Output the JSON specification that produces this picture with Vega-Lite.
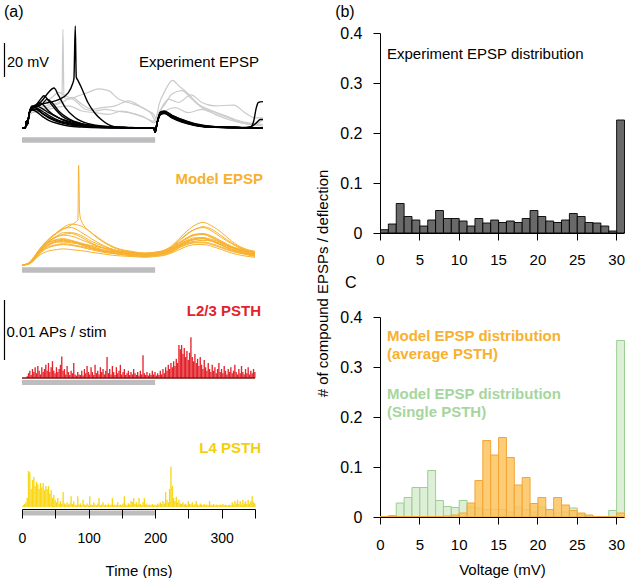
{"$schema":"https://vega.github.io/schema/vega-lite/v6.json",
"autosize":{"type":"pad"},
"padding":{"left":3,"top":4,"right":0,"bottom":0},
"background":"white",
"config":{"view":{"stroke":null},"font":"Liberation Sans","axis":{"grid":false,"domainColor":"#000","tickColor":"#000","labelColor":"#000","titleColor":"#000","labelFont":"Liberation Sans","titleFont":"Liberation Sans","titleFontWeight":"normal","domainWidth":1,"tickWidth":1},"text":{"font":"Liberation Sans"}},
"datasets":{
"expk":[
{"id":"b1","t":0,"v":0},{"id":"b1","t":5,"v":0},{"id":"b1","t":6.5,"v":4},{"id":"b1","t":8,"v":2},{"id":"b1","t":11,"v":9},{"id":"b1","t":15,"v":12.5},{"id":"b1","t":20,"v":12},{"id":"b1","t":30,"v":9},{"id":"b1","t":40,"v":6.5},{"id":"b1","t":55,"v":4},{"id":"b1","t":70,"v":2.5},{"id":"b1","t":90,"v":1.2},{"id":"b1","t":120,"v":0.4},{"id":"b1","t":160,"v":0.1},{"id":"b1","t":198,"v":0},{"id":"b1","t":200,"v":-2.5},{"id":"b1","t":203,"v":3},{"id":"b1","t":208,"v":8.5},{"id":"b1","t":214,"v":9},{"id":"b1","t":225,"v":6.5},{"id":"b1","t":240,"v":4},{"id":"b1","t":260,"v":1.8},{"id":"b1","t":290,"v":0.5},{"id":"b1","t":330,"v":0.2},{"id":"b1","t":362,"v":0},
{"id":"b2","t":0,"v":0},{"id":"b2","t":5,"v":0},{"id":"b2","t":6.5,"v":4},{"id":"b2","t":8,"v":2},{"id":"b2","t":11,"v":9},{"id":"b2","t":15,"v":13},{"id":"b2","t":22,"v":13},{"id":"b2","t":30,"v":11.5},{"id":"b2","t":40,"v":9},{"id":"b2","t":55,"v":6},{"id":"b2","t":70,"v":4},{"id":"b2","t":90,"v":2},{"id":"b2","t":120,"v":0.7},{"id":"b2","t":160,"v":0.2},{"id":"b2","t":198,"v":0},{"id":"b2","t":200,"v":-2.5},{"id":"b2","t":203,"v":3},{"id":"b2","t":208,"v":9},{"id":"b2","t":214,"v":9.5},{"id":"b2","t":225,"v":7.5},{"id":"b2","t":240,"v":5},{"id":"b2","t":260,"v":2.5},{"id":"b2","t":290,"v":0.8},{"id":"b2","t":330,"v":0.3},{"id":"b2","t":362,"v":0},
{"id":"b3","t":0,"v":0},{"id":"b3","t":5,"v":0},{"id":"b3","t":6.5,"v":4},{"id":"b3","t":8,"v":2},{"id":"b3","t":11,"v":9},{"id":"b3","t":15,"v":12},{"id":"b3","t":22,"v":14},{"id":"b3","t":28,"v":17},{"id":"b3","t":33,"v":19},{"id":"b3","t":40,"v":16},{"id":"b3","t":50,"v":11},{"id":"b3","t":60,"v":7},{"id":"b3","t":75,"v":4},{"id":"b3","t":95,"v":2},{"id":"b3","t":120,"v":0.8},{"id":"b3","t":160,"v":0.2},{"id":"b3","t":198,"v":0},{"id":"b3","t":200,"v":-2},{"id":"b3","t":203,"v":3},{"id":"b3","t":208,"v":8},{"id":"b3","t":214,"v":8.8},{"id":"b3","t":225,"v":6.5},{"id":"b3","t":240,"v":4},{"id":"b3","t":260,"v":1.8},{"id":"b3","t":290,"v":0.5},{"id":"b3","t":330,"v":0.2},{"id":"b3","t":362,"v":0},
{"id":"b4","t":0,"v":0},{"id":"b4","t":5,"v":0},{"id":"b4","t":6.5,"v":4},{"id":"b4","t":8,"v":2},{"id":"b4","t":11,"v":9},{"id":"b4","t":15,"v":11.5},{"id":"b4","t":22,"v":13},{"id":"b4","t":30,"v":16},{"id":"b4","t":40,"v":21},{"id":"b4","t":48,"v":23.5},{"id":"b4","t":55,"v":19},{"id":"b4","t":65,"v":12},{"id":"b4","t":80,"v":6},{"id":"b4","t":100,"v":2.5},{"id":"b4","t":130,"v":0.8},{"id":"b4","t":160,"v":0.2},{"id":"b4","t":198,"v":0},{"id":"b4","t":200,"v":-2.5},{"id":"b4","t":203,"v":3},{"id":"b4","t":208,"v":9},{"id":"b4","t":214,"v":9.5},{"id":"b4","t":225,"v":7},{"id":"b4","t":240,"v":4.5},{"id":"b4","t":260,"v":2},{"id":"b4","t":290,"v":0.6},{"id":"b4","t":330,"v":0.2},{"id":"b4","t":362,"v":0},
{"id":"b5","t":0,"v":0},{"id":"b5","t":5,"v":0},{"id":"b5","t":6.5,"v":4},{"id":"b5","t":8,"v":2},{"id":"b5","t":11,"v":9},{"id":"b5","t":15,"v":12},{"id":"b5","t":22,"v":13},{"id":"b5","t":30,"v":14},{"id":"b5","t":40,"v":15},{"id":"b5","t":54,"v":16.5},{"id":"b5","t":69,"v":20.5},{"id":"b5","t":76,"v":26},{"id":"b5","t":78,"v":29},{"id":"b5","t":80,"v":60},{"id":"b5","t":81.5,"v":30},{"id":"b5","t":84,"v":28},{"id":"b5","t":89,"v":24},{"id":"b5","t":99,"v":15},{"id":"b5","t":109,"v":9},{"id":"b5","t":119,"v":5},{"id":"b5","t":139,"v":0.8},{"id":"b5","t":170,"v":0.2},{"id":"b5","t":198,"v":0},{"id":"b5","t":200,"v":-2.5},{"id":"b5","t":203,"v":3},{"id":"b5","t":208,"v":8.5},{"id":"b5","t":214,"v":9},{"id":"b5","t":225,"v":6.5},{"id":"b5","t":240,"v":4},{"id":"b5","t":260,"v":1.8},{"id":"b5","t":290,"v":0.5},{"id":"b5","t":330,"v":0.2},{"id":"b5","t":362,"v":0},
{"id":"b6","t":0,"v":0},{"id":"b6","t":5,"v":0},{"id":"b6","t":6.5,"v":4},{"id":"b6","t":8,"v":2},{"id":"b6","t":11,"v":9},{"id":"b6","t":15,"v":12},{"id":"b6","t":20,"v":12},{"id":"b6","t":30,"v":10},{"id":"b6","t":40,"v":7.5},{"id":"b6","t":55,"v":4.5},{"id":"b6","t":70,"v":3},{"id":"b6","t":90,"v":1.5},{"id":"b6","t":120,"v":0.5},{"id":"b6","t":160,"v":0.1},{"id":"b6","t":198,"v":0},{"id":"b6","t":200,"v":-2.5},{"id":"b6","t":203,"v":3},{"id":"b6","t":208,"v":8.5},{"id":"b6","t":214,"v":9.3},{"id":"b6","t":225,"v":7},{"id":"b6","t":240,"v":4.2},{"id":"b6","t":260,"v":1.9},{"id":"b6","t":290,"v":0.5},{"id":"b6","t":330,"v":0.2},{"id":"b6","t":343,"v":0.5},{"id":"b6","t":348,"v":4},{"id":"b6","t":352,"v":12},{"id":"b6","t":355,"v":15},{"id":"b6","t":362,"v":15.5},
{"id":"b7","t":0,"v":0},{"id":"b7","t":5,"v":0},{"id":"b7","t":6.5,"v":4},{"id":"b7","t":8,"v":2},{"id":"b7","t":11,"v":9},{"id":"b7","t":15,"v":11},{"id":"b7","t":20,"v":11},{"id":"b7","t":30,"v":8.5},{"id":"b7","t":40,"v":6},{"id":"b7","t":55,"v":3.5},{"id":"b7","t":70,"v":2},{"id":"b7","t":90,"v":1},{"id":"b7","t":120,"v":0.3},{"id":"b7","t":160,"v":0.1},{"id":"b7","t":198,"v":0},{"id":"b7","t":200,"v":-2.5},{"id":"b7","t":203,"v":3},{"id":"b7","t":208,"v":8.2},{"id":"b7","t":214,"v":8.8},{"id":"b7","t":225,"v":6.3},{"id":"b7","t":240,"v":3.8},{"id":"b7","t":260,"v":1.6},{"id":"b7","t":290,"v":0.4},{"id":"b7","t":330,"v":0.2},{"id":"b7","t":345,"v":1},{"id":"b7","t":352,"v":3},{"id":"b7","t":358,"v":5},{"id":"b7","t":362,"v":5},
{"id":"b8","t":0,"v":0},{"id":"b8","t":5,"v":0},{"id":"b8","t":6.5,"v":3.5},{"id":"b8","t":8,"v":2},{"id":"b8","t":11,"v":8.5},{"id":"b8","t":15,"v":10.5},{"id":"b8","t":20,"v":10},{"id":"b8","t":30,"v":7},{"id":"b8","t":40,"v":4.5},{"id":"b8","t":55,"v":2.5},{"id":"b8","t":70,"v":1.2},{"id":"b8","t":90,"v":0.5},{"id":"b8","t":120,"v":0.1},{"id":"b8","t":198,"v":0},{"id":"b8","t":200,"v":-2.5},{"id":"b8","t":203,"v":3},{"id":"b8","t":208,"v":8},{"id":"b8","t":214,"v":8.5},{"id":"b8","t":225,"v":6},{"id":"b8","t":240,"v":3.5},{"id":"b8","t":260,"v":1.5},{"id":"b8","t":290,"v":0.4},{"id":"b8","t":362,"v":0},
{"id":"b9","t":0,"v":0},{"id":"b9","t":5,"v":0},{"id":"b9","t":6.5,"v":4},{"id":"b9","t":8,"v":2},{"id":"b9","t":11,"v":9},{"id":"b9","t":15,"v":12},{"id":"b9","t":20,"v":13},{"id":"b9","t":26,"v":15},{"id":"b9","t":32,"v":13.5},{"id":"b9","t":40,"v":10},{"id":"b9","t":55,"v":6},{"id":"b9","t":70,"v":3.5},{"id":"b9","t":90,"v":1.8},{"id":"b9","t":120,"v":0.5},{"id":"b9","t":160,"v":0.1},{"id":"b9","t":198,"v":0},{"id":"b9","t":200,"v":-2},{"id":"b9","t":203,"v":3.5},{"id":"b9","t":208,"v":9.5},{"id":"b9","t":214,"v":10},{"id":"b9","t":225,"v":7.5},{"id":"b9","t":240,"v":5},{"id":"b9","t":260,"v":2.2},{"id":"b9","t":290,"v":0.7},{"id":"b9","t":330,"v":0.2},{"id":"b9","t":362,"v":0},
{"id":"b10","t":0,"v":0},{"id":"b10","t":5,"v":0},{"id":"b10","t":6.5,"v":4},{"id":"b10","t":8,"v":2},{"id":"b10","t":11,"v":9},{"id":"b10","t":15,"v":11.5},{"id":"b10","t":22,"v":12.5},{"id":"b10","t":30,"v":14},{"id":"b10","t":38,"v":17},{"id":"b10","t":45,"v":15},{"id":"b10","t":55,"v":10},{"id":"b10","t":70,"v":5.5},{"id":"b10","t":90,"v":2.5},{"id":"b10","t":120,"v":0.8},{"id":"b10","t":160,"v":0.2},{"id":"b10","t":198,"v":0},{"id":"b10","t":200,"v":-2.5},{"id":"b10","t":203,"v":3},{"id":"b10","t":208,"v":9},{"id":"b10","t":214,"v":9.2},{"id":"b10","t":225,"v":7},{"id":"b10","t":240,"v":4.3},{"id":"b10","t":260,"v":2},{"id":"b10","t":290,"v":0.6},{"id":"b10","t":330,"v":0.2},{"id":"b10","t":362,"v":0}
],
"expg":[
{"id":"g1","t":0,"v":0},{"id":"g1","t":5,"v":0},{"id":"g1","t":6.5,"v":4},{"id":"g1","t":8,"v":2},{"id":"g1","t":11,"v":9},{"id":"g1","t":15,"v":11},{"id":"g1","t":25,"v":12},{"id":"g1","t":35,"v":13},{"id":"g1","t":45,"v":14},{"id":"g1","t":55,"v":15},{"id":"g1","t":60,"v":17},{"id":"g1","t":61.5,"v":58},{"id":"g1","t":63,"v":18},{"id":"g1","t":70,"v":17},{"id":"g1","t":85,"v":19},{"id":"g1","t":100,"v":21},{"id":"g1","t":115,"v":23},{"id":"g1","t":130,"v":22},{"id":"g1","t":145,"v":17},{"id":"g1","t":160,"v":15},{"id":"g1","t":175,"v":13},{"id":"g1","t":190,"v":10},{"id":"g1","t":198,"v":8},{"id":"g1","t":201,"v":6},{"id":"g1","t":206,"v":14},{"id":"g1","t":215,"v":22},{"id":"g1","t":226,"v":28},{"id":"g1","t":235,"v":25},{"id":"g1","t":250,"v":20},{"id":"g1","t":265,"v":14},{"id":"g1","t":280,"v":11},{"id":"g1","t":300,"v":8},{"id":"g1","t":320,"v":5},{"id":"g1","t":340,"v":3},{"id":"g1","t":362,"v":2},
{"id":"g2","t":0,"v":0},{"id":"g2","t":5,"v":0},{"id":"g2","t":6.5,"v":4},{"id":"g2","t":8,"v":2},{"id":"g2","t":11,"v":8},{"id":"g2","t":15,"v":10},{"id":"g2","t":30,"v":11},{"id":"g2","t":45,"v":13},{"id":"g2","t":60,"v":15},{"id":"g2","t":75,"v":18},{"id":"g2","t":90,"v":14},{"id":"g2","t":105,"v":11},{"id":"g2","t":120,"v":12},{"id":"g2","t":140,"v":13},{"id":"g2","t":160,"v":16},{"id":"g2","t":180,"v":12},{"id":"g2","t":195,"v":8},{"id":"g2","t":201,"v":4},{"id":"g2","t":210,"v":12},{"id":"g2","t":220,"v":17},{"id":"g2","t":235,"v":15},{"id":"g2","t":254,"v":19.5},{"id":"g2","t":270,"v":15},{"id":"g2","t":290,"v":13},{"id":"g2","t":318,"v":13.5},{"id":"g2","t":335,"v":9},{"id":"g2","t":350,"v":6},{"id":"g2","t":362,"v":6},
{"id":"g3","t":0,"v":0},{"id":"g3","t":5,"v":0},{"id":"g3","t":6.5,"v":4},{"id":"g3","t":8,"v":2},{"id":"g3","t":11,"v":8},{"id":"g3","t":15,"v":11},{"id":"g3","t":30,"v":14},{"id":"g3","t":45,"v":18},{"id":"g3","t":55,"v":21},{"id":"g3","t":65,"v":19},{"id":"g3","t":80,"v":16},{"id":"g3","t":95,"v":11},{"id":"g3","t":110,"v":10},{"id":"g3","t":125,"v":11},{"id":"g3","t":140,"v":10},{"id":"g3","t":160,"v":9},{"id":"g3","t":180,"v":7},{"id":"g3","t":198,"v":4},{"id":"g3","t":205,"v":9},{"id":"g3","t":215,"v":14},{"id":"g3","t":225,"v":20},{"id":"g3","t":240,"v":22},{"id":"g3","t":255,"v":17},{"id":"g3","t":270,"v":12},{"id":"g3","t":290,"v":9},{"id":"g3","t":310,"v":6},{"id":"g3","t":330,"v":3},{"id":"g3","t":350,"v":2},{"id":"g3","t":362,"v":5},
{"id":"g4","t":0,"v":0},{"id":"g4","t":5,"v":0},{"id":"g4","t":6.5,"v":3},{"id":"g4","t":8,"v":2},{"id":"g4","t":11,"v":7},{"id":"g4","t":15,"v":9},{"id":"g4","t":30,"v":10},{"id":"g4","t":50,"v":12},{"id":"g4","t":70,"v":13},{"id":"g4","t":90,"v":10},{"id":"g4","t":110,"v":9},{"id":"g4","t":130,"v":8},{"id":"g4","t":150,"v":10},{"id":"g4","t":170,"v":8},{"id":"g4","t":190,"v":5},{"id":"g4","t":198,"v":3},{"id":"g4","t":205,"v":6},{"id":"g4","t":215,"v":10},{"id":"g4","t":230,"v":12},{"id":"g4","t":250,"v":9},{"id":"g4","t":270,"v":11},{"id":"g4","t":290,"v":8},{"id":"g4","t":310,"v":5},{"id":"g4","t":330,"v":3},{"id":"g4","t":345,"v":2},{"id":"g4","t":362,"v":1}
],
"mod":[
{"id":"m1","t":0,"v":0},{"id":"m1","t":8,"v":0.5},{"id":"m1","t":16,"v":3},{"id":"m1","t":24,"v":7},{"id":"m1","t":32,"v":10.5},{"id":"m1","t":42,"v":13.5},{"id":"m1","t":52,"v":15},{"id":"m1","t":62,"v":15.5},{"id":"m1","t":74,"v":14.5},{"id":"m1","t":88,"v":13},{"id":"m1","t":104,"v":11},{"id":"m1","t":122,"v":9},{"id":"m1","t":142,"v":7.5},{"id":"m1","t":165,"v":6.5},{"id":"m1","t":185,"v":6},{"id":"m1","t":200,"v":6.5},{"id":"m1","t":212,"v":7},{"id":"m1","t":224,"v":9},{"id":"m1","t":236,"v":12},{"id":"m1","t":248,"v":14.5},{"id":"m1","t":260,"v":16},{"id":"m1","t":272,"v":16},{"id":"m1","t":285,"v":14.5},{"id":"m1","t":300,"v":12},{"id":"m1","t":315,"v":9.5},{"id":"m1","t":332,"v":7.5},{"id":"m1","t":350,"v":6},
{"id":"m2","t":0,"v":0},{"id":"m2","t":8,"v":0.8},{"id":"m2","t":16,"v":3.5},{"id":"m2","t":24,"v":8},{"id":"m2","t":32,"v":12},{"id":"m2","t":42,"v":16},{"id":"m2","t":52,"v":19},{"id":"m2","t":62,"v":21.5},{"id":"m2","t":74,"v":22},{"id":"m2","t":88,"v":19.5},{"id":"m2","t":104,"v":15.5},{"id":"m2","t":122,"v":11.5},{"id":"m2","t":142,"v":8.5},{"id":"m2","t":165,"v":7},{"id":"m2","t":185,"v":6.5},{"id":"m2","t":200,"v":7},{"id":"m2","t":212,"v":8},{"id":"m2","t":224,"v":10},{"id":"m2","t":236,"v":14},{"id":"m2","t":248,"v":18},{"id":"m2","t":260,"v":21},{"id":"m2","t":272,"v":22},{"id":"m2","t":285,"v":20},{"id":"m2","t":300,"v":16},{"id":"m2","t":315,"v":12.5},{"id":"m2","t":332,"v":9},{"id":"m2","t":350,"v":7},
{"id":"m3","t":0,"v":0},{"id":"m3","t":8,"v":0.3},{"id":"m3","t":16,"v":2},{"id":"m3","t":24,"v":5},{"id":"m3","t":32,"v":7},{"id":"m3","t":42,"v":8.5},{"id":"m3","t":52,"v":9},{"id":"m3","t":62,"v":9.5},{"id":"m3","t":74,"v":9},{"id":"m3","t":88,"v":8.5},{"id":"m3","t":104,"v":7.5},{"id":"m3","t":122,"v":6.5},{"id":"m3","t":142,"v":5.5},{"id":"m3","t":165,"v":5},{"id":"m3","t":185,"v":4.5},{"id":"m3","t":200,"v":5},{"id":"m3","t":212,"v":5.5},{"id":"m3","t":224,"v":7},{"id":"m3","t":236,"v":9},{"id":"m3","t":248,"v":11},{"id":"m3","t":260,"v":12},{"id":"m3","t":272,"v":12},{"id":"m3","t":285,"v":11},{"id":"m3","t":300,"v":9},{"id":"m3","t":315,"v":7},{"id":"m3","t":332,"v":5.5},{"id":"m3","t":350,"v":4.5},
{"id":"m4","t":0,"v":0},{"id":"m4","t":8,"v":0.6},{"id":"m4","t":16,"v":3.5},{"id":"m4","t":24,"v":8},{"id":"m4","t":32,"v":12},{"id":"m4","t":42,"v":15.5},{"id":"m4","t":52,"v":18.5},{"id":"m4","t":62,"v":21},{"id":"m4","t":74,"v":23.5},{"id":"m4","t":80,"v":25},{"id":"m4","t":84,"v":26.5},{"id":"m4","t":85,"v":58.6},{"id":"m4","t":86.5,"v":31},{"id":"m4","t":89,"v":26},{"id":"m4","t":104,"v":19},{"id":"m4","t":122,"v":13.5},{"id":"m4","t":142,"v":9.5},{"id":"m4","t":165,"v":7.5},{"id":"m4","t":185,"v":6.5},{"id":"m4","t":200,"v":7},{"id":"m4","t":212,"v":8},{"id":"m4","t":224,"v":10.5},{"id":"m4","t":236,"v":14.5},{"id":"m4","t":248,"v":18.5},{"id":"m4","t":260,"v":21},{"id":"m4","t":272,"v":22.5},{"id":"m4","t":285,"v":21},{"id":"m4","t":300,"v":17},{"id":"m4","t":315,"v":13},{"id":"m4","t":332,"v":9.5},{"id":"m4","t":350,"v":7.5},
{"id":"m5","t":0,"v":0},{"id":"m5","t":8,"v":0.4},{"id":"m5","t":16,"v":2.5},{"id":"m5","t":24,"v":6},{"id":"m5","t":32,"v":9.5},{"id":"m5","t":42,"v":12.5},{"id":"m5","t":52,"v":14},{"id":"m5","t":62,"v":14.5},{"id":"m5","t":74,"v":14},{"id":"m5","t":88,"v":12.5},{"id":"m5","t":104,"v":10.5},{"id":"m5","t":122,"v":8.5},{"id":"m5","t":142,"v":7},{"id":"m5","t":165,"v":6},{"id":"m5","t":185,"v":5.5},{"id":"m5","t":200,"v":6},{"id":"m5","t":212,"v":6.5},{"id":"m5","t":224,"v":8.5},{"id":"m5","t":236,"v":11.5},{"id":"m5","t":248,"v":14},{"id":"m5","t":260,"v":15},{"id":"m5","t":272,"v":15.5},{"id":"m5","t":285,"v":14},{"id":"m5","t":300,"v":11.5},{"id":"m5","t":315,"v":9},{"id":"m5","t":332,"v":7},{"id":"m5","t":350,"v":5.5},
{"id":"m6","t":0,"v":0},{"id":"m6","t":8,"v":0.5},{"id":"m6","t":16,"v":3},{"id":"m6","t":24,"v":7.5},{"id":"m6","t":32,"v":11.5},{"id":"m6","t":42,"v":15.5},{"id":"m6","t":52,"v":19},{"id":"m6","t":62,"v":22},{"id":"m6","t":74,"v":24},{"id":"m6","t":88,"v":23},{"id":"m6","t":104,"v":19},{"id":"m6","t":122,"v":14},{"id":"m6","t":142,"v":10},{"id":"m6","t":165,"v":8},{"id":"m6","t":185,"v":7},{"id":"m6","t":200,"v":7.5},{"id":"m6","t":212,"v":8.5},{"id":"m6","t":224,"v":11},{"id":"m6","t":236,"v":15.5},{"id":"m6","t":248,"v":20},{"id":"m6","t":260,"v":23.5},{"id":"m6","t":272,"v":25},{"id":"m6","t":285,"v":23},{"id":"m6","t":300,"v":19},{"id":"m6","t":315,"v":14},{"id":"m6","t":332,"v":10},{"id":"m6","t":350,"v":8},
{"id":"m7","t":0,"v":0},{"id":"m7","t":8,"v":0.5},{"id":"m7","t":16,"v":3},{"id":"m7","t":24,"v":6.5},{"id":"m7","t":32,"v":9.5},{"id":"m7","t":42,"v":12},{"id":"m7","t":52,"v":13.5},{"id":"m7","t":62,"v":14},{"id":"m7","t":74,"v":13.5},{"id":"m7","t":88,"v":12},{"id":"m7","t":104,"v":10},{"id":"m7","t":122,"v":8},{"id":"m7","t":142,"v":7},{"id":"m7","t":165,"v":6},{"id":"m7","t":185,"v":5.5},{"id":"m7","t":200,"v":6},{"id":"m7","t":212,"v":7},{"id":"m7","t":224,"v":8},{"id":"m7","t":236,"v":10.5},{"id":"m7","t":248,"v":12.5},{"id":"m7","t":260,"v":13.5},{"id":"m7","t":272,"v":13.5},{"id":"m7","t":285,"v":12.5},{"id":"m7","t":300,"v":10.5},{"id":"m7","t":315,"v":8.5},{"id":"m7","t":332,"v":7},{"id":"m7","t":350,"v":6},
{"id":"m8","t":0,"v":0},{"id":"m8","t":8,"v":0.6},{"id":"m8","t":16,"v":3.5},{"id":"m8","t":24,"v":8},{"id":"m8","t":32,"v":11.5},{"id":"m8","t":42,"v":14.5},{"id":"m8","t":52,"v":16.5},{"id":"m8","t":62,"v":17.5},{"id":"m8","t":74,"v":17},{"id":"m8","t":88,"v":15},{"id":"m8","t":104,"v":12.5},{"id":"m8","t":122,"v":10},{"id":"m8","t":142,"v":8},{"id":"m8","t":165,"v":7},{"id":"m8","t":185,"v":6.5},{"id":"m8","t":200,"v":7},{"id":"m8","t":212,"v":8},{"id":"m8","t":224,"v":10},{"id":"m8","t":236,"v":13},{"id":"m8","t":248,"v":16},{"id":"m8","t":260,"v":18},{"id":"m8","t":272,"v":18.5},{"id":"m8","t":285,"v":17},{"id":"m8","t":300,"v":14},{"id":"m8","t":315,"v":11},{"id":"m8","t":332,"v":8.5},{"id":"m8","t":350,"v":7},
{"id":"m9","t":0,"v":0},{"id":"m9","t":8,"v":0.4},{"id":"m9","t":16,"v":2.5},{"id":"m9","t":24,"v":6},{"id":"m9","t":32,"v":9},{"id":"m9","t":42,"v":11},{"id":"m9","t":52,"v":12},{"id":"m9","t":62,"v":12.5},{"id":"m9","t":74,"v":12},{"id":"m9","t":88,"v":11},{"id":"m9","t":104,"v":9.5},{"id":"m9","t":122,"v":8},{"id":"m9","t":142,"v":6.5},{"id":"m9","t":165,"v":5.5},{"id":"m9","t":185,"v":5},{"id":"m9","t":200,"v":5.5},{"id":"m9","t":212,"v":6},{"id":"m9","t":224,"v":7.5},{"id":"m9","t":236,"v":10},{"id":"m9","t":248,"v":12},{"id":"m9","t":260,"v":13},{"id":"m9","t":272,"v":13},{"id":"m9","t":285,"v":12},{"id":"m9","t":300,"v":10},{"id":"m9","t":315,"v":8},{"id":"m9","t":332,"v":6.5},{"id":"m9","t":350,"v":5},
{"id":"m10","t":0,"v":0},{"id":"m10","t":8,"v":0.5},{"id":"m10","t":16,"v":3},{"id":"m10","t":24,"v":7},{"id":"m10","t":32,"v":10.5},{"id":"m10","t":42,"v":14},{"id":"m10","t":52,"v":16.5},{"id":"m10","t":62,"v":18},{"id":"m10","t":74,"v":18.5},{"id":"m10","t":88,"v":16.5},{"id":"m10","t":104,"v":13},{"id":"m10","t":122,"v":10},{"id":"m10","t":142,"v":8},{"id":"m10","t":165,"v":6.5},{"id":"m10","t":185,"v":6},{"id":"m10","t":200,"v":6.5},{"id":"m10","t":212,"v":7.5},{"id":"m10","t":224,"v":9.5},{"id":"m10","t":236,"v":12.5},{"id":"m10","t":248,"v":15.5},{"id":"m10","t":260,"v":17.5},{"id":"m10","t":272,"v":18},{"id":"m10","t":285,"v":16.5},{"id":"m10","t":300,"v":13.5},{"id":"m10","t":315,"v":10.5},{"id":"m10","t":332,"v":8},{"id":"m10","t":350,"v":6.5},
{"id":"m11","t":0,"v":0},{"id":"m11","t":8,"v":0.5},{"id":"m11","t":16,"v":3},{"id":"m11","t":24,"v":7},{"id":"m11","t":32,"v":11},{"id":"m11","t":42,"v":14.5},{"id":"m11","t":52,"v":17},{"id":"m11","t":62,"v":19},{"id":"m11","t":74,"v":19},{"id":"m11","t":88,"v":17.5},{"id":"m11","t":104,"v":14},{"id":"m11","t":122,"v":11},{"id":"m11","t":142,"v":8.5},{"id":"m11","t":165,"v":7},{"id":"m11","t":185,"v":6.5},{"id":"m11","t":200,"v":7},{"id":"m11","t":212,"v":7.5},{"id":"m11","t":224,"v":9},{"id":"m11","t":236,"v":11.5},{"id":"m11","t":248,"v":14},{"id":"m11","t":260,"v":15.5},{"id":"m11","t":272,"v":16},{"id":"m11","t":285,"v":15},{"id":"m11","t":300,"v":13},{"id":"m11","t":315,"v":10.5},{"id":"m11","t":332,"v":8.5},{"id":"m11","t":350,"v":7},
{"id":"m12","t":0,"v":0},{"id":"m12","t":8,"v":0.3},{"id":"m12","t":16,"v":2},{"id":"m12","t":24,"v":5.5},{"id":"m12","t":32,"v":8.5},{"id":"m12","t":42,"v":10.5},{"id":"m12","t":52,"v":11.5},{"id":"m12","t":62,"v":12},{"id":"m12","t":74,"v":11.5},{"id":"m12","t":88,"v":10.5},{"id":"m12","t":104,"v":9},{"id":"m12","t":122,"v":7.5},{"id":"m12","t":142,"v":6.5},{"id":"m12","t":165,"v":5.5},{"id":"m12","t":185,"v":5},{"id":"m12","t":200,"v":5.5},{"id":"m12","t":212,"v":6.5},{"id":"m12","t":224,"v":8},{"id":"m12","t":236,"v":11},{"id":"m12","t":248,"v":13.5},{"id":"m12","t":260,"v":15},{"id":"m12","t":272,"v":15.5},{"id":"m12","t":285,"v":14},{"id":"m12","t":300,"v":11.5},{"id":"m12","t":315,"v":9},{"id":"m12","t":332,"v":7},{"id":"m12","t":350,"v":5.5},
{"id":"m13","t":0,"v":0},{"id":"m13","t":8,"v":0.6},{"id":"m13","t":16,"v":3.5},{"id":"m13","t":24,"v":7.5},{"id":"m13","t":32,"v":11},{"id":"m13","t":42,"v":13.5},{"id":"m13","t":52,"v":14.5},{"id":"m13","t":62,"v":15},{"id":"m13","t":74,"v":14},{"id":"m13","t":88,"v":12},{"id":"m13","t":104,"v":10},{"id":"m13","t":122,"v":8.5},{"id":"m13","t":142,"v":7.5},{"id":"m13","t":165,"v":7},{"id":"m13","t":185,"v":6.5},{"id":"m13","t":200,"v":7},{"id":"m13","t":212,"v":7.5},{"id":"m13","t":224,"v":9.5},{"id":"m13","t":236,"v":13},{"id":"m13","t":248,"v":16},{"id":"m13","t":260,"v":18},{"id":"m13","t":272,"v":18},{"id":"m13","t":285,"v":16},{"id":"m13","t":300,"v":13},{"id":"m13","t":315,"v":10},{"id":"m13","t":332,"v":8},{"id":"m13","t":350,"v":6.5},
{"id":"m14","t":0,"v":0},{"id":"m14","t":8,"v":0.5},{"id":"m14","t":16,"v":3},{"id":"m14","t":24,"v":7},{"id":"m14","t":32,"v":10},{"id":"m14","t":42,"v":12.5},{"id":"m14","t":52,"v":13.5},{"id":"m14","t":62,"v":13.5},{"id":"m14","t":74,"v":13},{"id":"m14","t":88,"v":12.5},{"id":"m14","t":104,"v":11.5},{"id":"m14","t":122,"v":10},{"id":"m14","t":142,"v":8.5},{"id":"m14","t":165,"v":7.5},{"id":"m14","t":185,"v":7},{"id":"m14","t":200,"v":7.5},{"id":"m14","t":212,"v":8},{"id":"m14","t":224,"v":9},{"id":"m14","t":236,"v":11},{"id":"m14","t":248,"v":13},{"id":"m14","t":260,"v":14},{"id":"m14","t":272,"v":14.5},{"id":"m14","t":285,"v":14},{"id":"m14","t":300,"v":12.5},{"id":"m14","t":315,"v":10.5},{"id":"m14","t":332,"v":9},{"id":"m14","t":350,"v":7.5}
],
"l23":[
{"t":0,"r":0},{"t":2,"r":0},{"t":4,"r":0},{"t":6,"r":0.0003},{"t":8,"r":0.0008},{"t":10,"r":0.0012},{"t":12,"r":0.0005},{"t":14,"r":0.0015},{"t":16,"r":0.001},{"t":18,"r":0.0018},{"t":20,"r":0.0008},{"t":22,"r":0.002},{"t":24,"r":0.0012},{"t":26,"r":0.0006},{"t":28,"r":0.0018},{"t":30,"r":0.001},{"t":32,"r":0.0015},{"t":34,"r":0.0022},{"t":36,"r":0.0012},{"t":38,"r":0.0025},{"t":40,"r":0.001},{"t":42,"r":0.0018},{"t":44,"r":0.0028},{"t":46,"r":0.0012},{"t":48,"r":0.0008},{"t":50,"r":0.0018},{"t":52,"r":0.001},{"t":54,"r":0.0015},{"t":56,"r":0.0022},{"t":58,"r":0.0036},{"t":60,"r":0.0012},{"t":62,"r":0.0015},{"t":64,"r":0.0006},{"t":66,"r":0.002},{"t":68,"r":0.001},{"t":70,"r":0.0005},{"t":72,"r":0.0012},{"t":74,"r":0.0008},{"t":76,"r":0.0025},{"t":78,"r":0.0006},{"t":80,"r":0.0004},{"t":82,"r":0.001},{"t":84,"r":0.0006},{"t":86,"r":0.0005},{"t":88,"r":0.0012},{"t":90,"r":0.0004},{"t":92,"r":0.0015},{"t":94,"r":0.0008},{"t":96,"r":0.002},{"t":98,"r":0.001},{"t":100,"r":0.0006},{"t":102,"r":0.0018},{"t":104,"r":0.001},{"t":106,"r":0.0005},{"t":108,"r":0.0022},{"t":110,"r":0.0008},{"t":112,"r":0.0012},{"t":114,"r":0.0006},{"t":116,"r":0.0018},{"t":118,"r":0.001},{"t":120,"r":0.0015},{"t":122,"r":0.0006},{"t":124,"r":0.0012},{"t":126,"r":0.0035},{"t":128,"r":0.0008},{"t":130,"r":0.0015},{"t":132,"r":0.0006},{"t":134,"r":0.002},{"t":136,"r":0.001},{"t":138,"r":0.0005},{"t":140,"r":0.0018},{"t":142,"r":0.0008},{"t":144,"r":0.0012},{"t":146,"r":0.0022},{"t":148,"r":0.0006},{"t":150,"r":0.001},{"t":152,"r":0.0015},{"t":154,"r":0.0005},{"t":156,"r":0.0008},{"t":158,"r":0.0012},{"t":160,"r":0.0005},{"t":162,"r":0.001},{"t":164,"r":0.0006},{"t":166,"r":0.0015},{"t":168,"r":0.0008},{"t":170,"r":0.0005},{"t":172,"r":0.001},{"t":174,"r":0.0004},{"t":176,"r":0.0012},{"t":178,"r":0.0006},{"t":180,"r":0.0038},{"t":182,"r":0.0008},{"t":184,"r":0.0005},{"t":186,"r":0.001},{"t":188,"r":0.0004},{"t":190,"r":0.0008},{"t":192,"r":0.0005},{"t":194,"r":0.0012},{"t":196,"r":0.0006},{"t":198,"r":0.001},{"t":200,"r":0.0004},{"t":202,"r":0.0008},{"t":204,"r":0.0005},{"t":206,"r":0.0012},{"t":208,"r":0.0006},{"t":210,"r":0.0015},{"t":212,"r":0.0008},{"t":214,"r":0.0018},{"t":216,"r":0.0012},{"t":218,"r":0.0022},{"t":220,"r":0.0015},{"t":222,"r":0.0025},{"t":224,"r":0.0018},{"t":226,"r":0.0028},{"t":228,"r":0.002},{"t":230,"r":0.0032},{"t":232,"r":0.0025},{"t":234,"r":0.0055},{"t":236,"r":0.0048},{"t":238,"r":0.0055},{"t":240,"r":0.004},{"t":242,"r":0.005},{"t":244,"r":0.0035},{"t":246,"r":0.0045},{"t":248,"r":0.003},{"t":250,"r":0.0042},{"t":252,"r":0.0068},{"t":254,"r":0.0035},{"t":256,"r":0.0028},{"t":258,"r":0.004},{"t":260,"r":0.0025},{"t":262,"r":0.0032},{"t":264,"r":0.002},{"t":266,"r":0.0035},{"t":268,"r":0.0022},{"t":270,"r":0.0015},{"t":272,"r":0.003},{"t":274,"r":0.0018},{"t":276,"r":0.0012},{"t":278,"r":0.0025},{"t":280,"r":0.0015},{"t":282,"r":0.001},{"t":284,"r":0.0022},{"t":286,"r":0.0012},{"t":288,"r":0.0018},{"t":290,"r":0.0008},{"t":292,"r":0.0015},{"t":294,"r":0.0025},{"t":296,"r":0.001},{"t":298,"r":0.0015},{"t":300,"r":0.0008},{"t":302,"r":0.002},{"t":304,"r":0.0012},{"t":306,"r":0.0006},{"t":308,"r":0.0015},{"t":310,"r":0.001},{"t":312,"r":0.0018},{"t":314,"r":0.0008},{"t":316,"r":0.0012},{"t":318,"r":0.0022},{"t":320,"r":0.001},{"t":322,"r":0.0006},{"t":324,"r":0.0015},{"t":326,"r":0.0008},{"t":328,"r":0.002},{"t":330,"r":0.001},{"t":332,"r":0.0006},{"t":334,"r":0.0015},{"t":336,"r":0.0008},{"t":338,"r":0.0018},{"t":340,"r":0.0006},{"t":342,"r":0.0012},{"t":344,"r":0.0008},{"t":346,"r":0.0015},{"t":348,"r":0.001}
],
"l4":[
{"t":0,"r":0.0003},{"t":2,"r":0.0005},{"t":4,"r":0.0008},{"t":6,"r":0.0015},{"t":8,"r":0.006},{"t":10,"r":0.0058},{"t":12,"r":0.003},{"t":14,"r":0.0045},{"t":16,"r":0.005},{"t":18,"r":0.0035},{"t":20,"r":0.0042},{"t":22,"r":0.0038},{"t":24,"r":0.003},{"t":26,"r":0.004},{"t":28,"r":0.0033},{"t":30,"r":0.004},{"t":32,"r":0.0028},{"t":34,"r":0.0035},{"t":36,"r":0.003},{"t":38,"r":0.0035},{"t":40,"r":0.0022},{"t":42,"r":0.0028},{"t":44,"r":0.0015},{"t":46,"r":0.002},{"t":48,"r":0.0012},{"t":50,"r":0.0008},{"t":52,"r":0.0015},{"t":54,"r":0.0006},{"t":56,"r":0.001},{"t":58,"r":0.0005},{"t":60,"r":0.0025},{"t":62,"r":0.0006},{"t":64,"r":0.0004},{"t":66,"r":0.0008},{"t":68,"r":0.0004},{"t":70,"r":0.0006},{"t":72,"r":0.0018},{"t":74,"r":0.0005},{"t":76,"r":0.001},{"t":78,"r":0.0004},{"t":80,"r":0.0003},{"t":82,"r":0.0018},{"t":84,"r":0.0004},{"t":86,"r":0.0006},{"t":88,"r":0.0003},{"t":90,"r":0.0012},{"t":92,"r":0.0004},{"t":94,"r":0.0003},{"t":96,"r":0.0006},{"t":98,"r":0.0003},{"t":100,"r":0.0018},{"t":102,"r":0.0004},{"t":104,"r":0.0003},{"t":106,"r":0.0008},{"t":108,"r":0.0004},{"t":110,"r":0.0003},{"t":112,"r":0.0006},{"t":114,"r":0.0015},{"t":116,"r":0.0003},{"t":118,"r":0.0004},{"t":120,"r":0.0008},{"t":122,"r":0.0003},{"t":124,"r":0.0004},{"t":126,"r":0.0003},{"t":128,"r":0.0006},{"t":130,"r":0.0003},{"t":132,"r":0.0004},{"t":134,"r":0.0015},{"t":136,"r":0.0003},{"t":138,"r":0.0004},{"t":140,"r":0.0003},{"t":142,"r":0.0008},{"t":144,"r":0.0003},{"t":146,"r":0.0004},{"t":148,"r":0.0003},{"t":150,"r":0.0006},{"t":152,"r":0.0018},{"t":154,"r":0.0004},{"t":156,"r":0.0003},{"t":158,"r":0.0006},{"t":160,"r":0.0004},{"t":162,"r":0.001},{"t":164,"r":0.0008},{"t":166,"r":0.0015},{"t":168,"r":0.0005},{"t":170,"r":0.0008},{"t":172,"r":0.0004},{"t":174,"r":0.0015},{"t":176,"r":0.0005},{"t":178,"r":0.0003},{"t":180,"r":0.0008},{"t":182,"r":0.0015},{"t":184,"r":0.0004},{"t":186,"r":0.0006},{"t":188,"r":0.0003},{"t":190,"r":0.0004},{"t":192,"r":0.0003},{"t":194,"r":0.0005},{"t":196,"r":0.0003},{"t":198,"r":0.0004},{"t":200,"r":0.0003},{"t":202,"r":0.0006},{"t":204,"r":0.0004},{"t":206,"r":0.0008},{"t":208,"r":0.0005},{"t":210,"r":0.001},{"t":212,"r":0.0006},{"t":214,"r":0.0025},{"t":216,"r":0.0012},{"t":218,"r":0.0008},{"t":220,"r":0.003},{"t":222,"r":0.0067},{"t":224,"r":0.0035},{"t":226,"r":0.0015},{"t":228,"r":0.001},{"t":230,"r":0.0017},{"t":232,"r":0.0008},{"t":234,"r":0.0012},{"t":236,"r":0.0006},{"t":238,"r":0.0005},{"t":240,"r":0.0008},{"t":242,"r":0.0004},{"t":244,"r":0.0006},{"t":246,"r":0.0003},{"t":248,"r":0.001},{"t":250,"r":0.0005},{"t":252,"r":0.0004},{"t":254,"r":0.0008},{"t":256,"r":0.0003},{"t":258,"r":0.0005},{"t":260,"r":0.001},{"t":262,"r":0.0004},{"t":264,"r":0.0003},{"t":266,"r":0.0006},{"t":268,"r":0.0004},{"t":270,"r":0.0003},{"t":272,"r":0.0005},{"t":274,"r":0.0003},{"t":276,"r":0.0004},{"t":278,"r":0.0003},{"t":280,"r":0.001},{"t":282,"r":0.0004},{"t":284,"r":0.0003},{"t":286,"r":0.0005},{"t":288,"r":0.0003},{"t":290,"r":0.0004},{"t":292,"r":0.0003},{"t":294,"r":0.0003},{"t":296,"r":0.0004},{"t":298,"r":0.0003},{"t":300,"r":0.0005},{"t":302,"r":0.0003},{"t":304,"r":0.0004},{"t":306,"r":0.0003},{"t":308,"r":0.0003},{"t":310,"r":0.0004},{"t":312,"r":0.0003},{"t":314,"r":0.0008},{"t":316,"r":0.0004},{"t":318,"r":0.001},{"t":320,"r":0.0006},{"t":322,"r":0.0012},{"t":324,"r":0.0005},{"t":326,"r":0.001},{"t":328,"r":0.0004},{"t":330,"r":0.0012},{"t":332,"r":0.0006},{"t":334,"r":0.001},{"t":336,"r":0.0005},{"t":338,"r":0.0012},{"t":340,"r":0.0006},{"t":342,"r":0.001},{"t":344,"r":0.0018},{"t":346,"r":0.0008},{"t":348,"r":0.0006}
],
"hb":[
{"v":0,"p":0.0066},{"v":1,"p":0.018},{"v":2,"p":0.059},{"v":3,"p":0.033},{"v":4,"p":0.026},{"v":5,"p":0.014},{"v":6,"p":0.026},{"v":7,"p":0.045},{"v":8,"p":0.029},{"v":9,"p":0.029},{"v":10,"p":0.024},{"v":11,"p":0.014},{"v":12,"p":0.029},{"v":13,"p":0.02},{"v":14,"p":0.026},{"v":15,"p":0.021},{"v":16,"p":0.024},{"v":17,"p":0.021},{"v":18,"p":0.029},{"v":19,"p":0.045},{"v":20,"p":0.033},{"v":21,"p":0.024},{"v":22,"p":0.021},{"v":23,"p":0.026},{"v":24,"p":0.039},{"v":25,"p":0.033},{"v":26,"p":0.021},{"v":27,"p":0.02},{"v":28,"p":0.014},{"v":29,"p":0.004},{"v":30,"p":0.226}
],
"hco":[
{"v":0,"p":0.001},{"v":1,"p":0.001},{"v":2,"p":0.001},{"v":3,"p":0.001},{"v":4,"p":0.001},{"v":5,"p":0.001},{"v":6,"p":0.001},{"v":7,"p":0.001},{"v":8,"p":0.002},{"v":9,"p":0.004},{"v":10,"p":0.008},{"v":11,"p":0.028},{"v":12,"p":0.073},{"v":13,"p":0.153},{"v":14,"p":0.124},{"v":15,"p":0.159},{"v":16,"p":0.119},{"v":17,"p":0.064},{"v":18,"p":0.079},{"v":19,"p":0.027},{"v":20,"p":0.039},{"v":21,"p":0.015},{"v":22,"p":0.039},{"v":23,"p":0.024},{"v":24,"p":0.013},{"v":25,"p":0.008},{"v":26,"p":0.004},{"v":27,"p":0.001},{"v":28,"p":0.001},{"v":29,"p":0.001},{"v":30,"p":0.008}
],
"hcg":[
{"v":0,"p":0.001},{"v":1,"p":0.003},{"v":2,"p":0.028},{"v":3,"p":0.039},{"v":4,"p":0.059},{"v":5,"p":0.059},{"v":6,"p":0.093},{"v":7,"p":0.033},{"v":8,"p":0.021},{"v":9,"p":0.019},{"v":10,"p":0.033},{"v":11,"p":0.02},{"v":12,"p":0.018},{"v":13,"p":0.015},{"v":14,"p":0.015},{"v":15,"p":0.015},{"v":16,"p":0.01},{"v":17,"p":0.02},{"v":18,"p":0.015},{"v":19,"p":0.01},{"v":20,"p":0.02},{"v":21,"p":0.015},{"v":22,"p":0.008},{"v":23,"p":0.01},{"v":24,"p":0.018},{"v":25,"p":0.005},{"v":26,"p":0.002},{"v":27,"p":0.001},{"v":28,"p":0.001},{"v":29,"p":0.013},{"v":30,"p":0.353}
]
},
"bounds":"full",
"spacing":49,
"hconcat":[
{"bounds":"flush","spacing":0,"vconcat":[
{"width":233,"height":117,"layer":[
{"data":{"name":"expg"},"mark":{"type":"line","color":"#cbcbcb","strokeWidth":1.2,"interpolate":"monotone"},"encoding":{"x":{"field":"t","type":"quantitative","scale":{"domain":[0,350],"nice":false,"zero":false},"axis":null},"y":{"field":"v","type":"quantitative","scale":{"domain":[-12.94,55.88],"nice":false,"zero":false},"axis":null},"detail":{"field":"id"}}},
{"data":{"name":"expk"},"mark":{"type":"line","color":"#000000","strokeWidth":1.4,"interpolate":"monotone"},"encoding":{"x":{"field":"t","type":"quantitative","scale":{"domain":[0,350],"nice":false,"zero":false},"axis":null},"y":{"field":"v","type":"quantitative","scale":{"domain":[-12.94,55.88],"nice":false,"zero":false},"axis":null},"detail":{"field":"id"}}},
{"data":{"values":[{}]},"mark":{"type":"rule","color":"#bdbdbf","strokeWidth":5.5},"encoding":{"x":{"datum":0,"axis":null},"x2":{"datum":200},"y":{"datum":-7.06,"axis":null}}},
{"data":{"values":[{}]},"mark":{"type":"rule","color":"#000000","strokeWidth":1.2},"encoding":{"x":{"datum":-26.3,"axis":null},"y":{"datum":30,"axis":null},"y2":{"datum":50}}},
{"data":{"values":[{}]},"mark":{"type":"text","text":"20 mV","align":"left","baseline":"middle","fontSize":14.5,"color":"#000000"},"encoding":{"x":{"datum":-22.5,"axis":null},"y":{"datum":38.2,"axis":null}}},
{"data":{"values":[{}]},"mark":{"type":"text","text":"Experiment EPSP","align":"right","baseline":"middle","fontSize":15,"color":"#000000"},"encoding":{"x":{"datum":356,"axis":null},"y":{"datum":39,"axis":null}}},
{"data":{"values":[{}]},"mark":{"type":"text","text":"(a)","align":"left","baseline":"middle","fontSize":16,"color":"#000000"},"encoding":{"x":{"datum":-27,"axis":null},"y":{"datum":68.2,"axis":null}}}
]},
{"width":233,"height":140,"layer":[
{"data":{"name":"mod"},"mark":{"type":"line","color":"#f7b12e","strokeWidth":1,"interpolate":"monotone"},"encoding":{"x":{"field":"t","type":"quantitative","scale":{"domain":[0,350],"nice":false,"zero":false},"axis":null},"y":{"field":"v","type":"quantitative","scale":{"domain":[-14.7,67.6],"nice":false,"zero":false},"axis":null},"detail":{"field":"id"}}},
{"data":{"values":[{}]},"mark":{"type":"rule","color":"#bdbdbf","strokeWidth":5.5},"encoding":{"x":{"datum":0,"axis":null},"x2":{"datum":200},"y":{"datum":-2.94,"axis":null}}},
{"data":{"values":[{}]},"mark":{"type":"text","text":"Model EPSP","align":"right","baseline":"middle","fontSize":15,"fontWeight":"bold","color":"#f7b12e"},"encoding":{"x":{"datum":362,"axis":null},"y":{"datum":50.6,"axis":null}}}
]},
{"width":233,"height":130,"layer":[
{"data":{"name":"l23"},"mark":{"type":"bar","color":"#e3222b","binSpacing":0},"encoding":{"x":{"field":"t","type":"quantitative","bin":{"binned":true,"step":2},"scale":{"domain":[0,350],"nice":false,"zero":false},"axis":null},"y":{"field":"r","type":"quantitative","scale":{"domain":[-0.007,0.014667],"nice":false,"zero":false},"axis":null},"y2":{"datum":0}}},
{"data":{"values":[{}]},"mark":{"type":"rule","color":"#7a1a1a","strokeWidth":1.5},"encoding":{"x":{"datum":0,"axis":null},"x2":{"datum":350},"y":{"datum":0,"axis":null}}},
{"data":{"values":[{}]},"mark":{"type":"rule","color":"#bdbdbf","strokeWidth":5},"encoding":{"x":{"datum":0,"axis":null},"x2":{"datum":200},"y":{"datum":-0.00075,"axis":null}}},
{"data":{"values":[{}]},"mark":{"type":"rule","color":"#000000","strokeWidth":1.2},"encoding":{"x":{"datum":-26.3,"axis":null},"y":{"datum":0.003,"axis":null},"y2":{"datum":0.013}}},
{"data":{"values":[{}]},"mark":{"type":"text","text":"0.01 APs / stim","align":"left","baseline":"middle","fontSize":15,"color":"#000000"},"encoding":{"x":{"datum":-23.3,"axis":null},"y":{"datum":0.0077,"axis":null}}},
{"data":{"values":[{}]},"mark":{"type":"text","text":"L2/3 PSTH","align":"right","baseline":"middle","fontSize":15,"fontWeight":"bold","color":"#e3222b"},"encoding":{"x":{"datum":359,"axis":null},"y":{"datum":0.0112,"axis":null}}}
]},
{"width":233,"height":89,"layer":[
{"data":{"name":"l4"},"mark":{"type":"bar","color":"#f9d616","binSpacing":0},"encoding":{"x":{"field":"t","type":"quantitative","bin":{"binned":true,"step":2},"scale":{"domain":[0,350],"nice":false,"zero":false},"axis":{"values":[0,50,100,150,200,250,300,350],"labelExpr":"datum.value % 100 === 0 ? datum.label : ''","format":"d","tickSize":9,"labelPadding":13,"labelFontSize":14,"labelFlush":false,"labelOverlap":false,"title":"Time (ms)","titleFontSize":15,"titlePadding":18,"zindex":1}},"y":{"field":"r","type":"quantitative","scale":{"domain":[-0.000333,0.0145],"nice":false,"zero":false},"axis":null},"y2":{"datum":0}}},
{"data":{"values":[{}]},"mark":{"type":"rule","color":"#bdbdbf","strokeWidth":5},"encoding":{"x":{"datum":0},"x2":{"datum":200},"y":{"datum":-0.001,"axis":null}}},
{"data":{"values":[{}]},"mark":{"type":"text","text":"L4 PSTH","align":"right","baseline":"middle","fontSize":15,"fontWeight":"bold","color":"#f5cf0a"},"encoding":{"x":{"datum":359},"y":{"datum":0.00983,"axis":null}}}
]}
]},
{"bounds":"flush","spacing":84,"vconcat":[
{"width":244,"height":200,"layer":[
{"data":{"name":"hb"},"mark":{"type":"bar","fill":"#696969","stroke":"#000000","strokeWidth":0.9,"binSpacing":0},"encoding":{"x":{"field":"v","type":"quantitative","bin":{"binned":true,"step":1},"scale":{"domain":[0,31],"nice":false,"zero":false},"axis":{"values":[0,5,10,15,20,25,30],"format":"d","tickSize":7,"labelPadding":12,"labelFontSize":15,"labelFlush":false,"labelOverlap":false,"title":null,"zindex":1}},"y":{"field":"p","type":"quantitative","scale":{"domain":[0,0.4],"nice":false},"axis":{"values":[0,0.1,0.2,0.3,0.4],"format":"~g","tickSize":7,"labelPadding":11,"labelFontSize":16,"labelFlush":false,"labelOverlap":false,"title":null}},"y2":{"datum":0}}},
{"data":{"values":[{}]},"mark":{"type":"text","text":"Experiment EPSP distribution","align":"left","baseline":"middle","fontSize":15,"color":"#000000"},"encoding":{"x":{"datum":0.89},"y":{"datum":0.358}}},
{"data":{"values":[{}]},"mark":{"type":"text","text":"(b)","align":"left","baseline":"middle","fontSize":16,"color":"#000000"},"encoding":{"x":{"datum":-5.7},"y":{"datum":0.442}}}
]},
{"width":244,"height":200,"layer":[
{"data":{"name":"hcg"},"mark":{"type":"bar","fill":"#ddefd6","stroke":"#9ccf94","strokeWidth":1,"binSpacing":0},"encoding":{"x":{"field":"v","type":"quantitative","bin":{"binned":true,"step":1},"scale":{"domain":[0,31],"nice":false,"zero":false},"axis":{"values":[0,5,10,15,20,25,30],"format":"d","tickSize":7,"labelPadding":13,"labelFontSize":15,"labelFlush":false,"labelOverlap":false,"title":"Voltage (mV)","titleFontSize":15,"titlePadding":10,"zindex":1}},"y":{"field":"p","type":"quantitative","scale":{"domain":[0,0.4],"nice":false},"axis":{"values":[0,0.1,0.2,0.3,0.4],"format":"~g","tickSize":7,"labelPadding":11,"labelFontSize":16,"labelFlush":false,"labelOverlap":false,"title":"# of compound EPSPs / deflection","titleFontSize":15,"titleAngle":-90,"titleAlign":"center","titleBaseline":"alphabetic","titleX":-53,"titleY":-34}},"y2":{"datum":0}}},
{"data":{"name":"hco"},"mark":{"type":"bar","fill":"#fbc35f","fillOpacity":0.85,"stroke":"#f2a637","strokeWidth":1,"binSpacing":0},"encoding":{"x":{"field":"v","type":"quantitative","bin":{"binned":true,"step":1}},"y":{"field":"p","type":"quantitative"},"y2":{"datum":0}}},
{"data":{"values":[{}]},"mark":{"type":"text","text":["Model EPSP distribution","(average PSTH)"],"lineHeight":18,"align":"left","baseline":"top","fontSize":15,"fontWeight":"bold","color":"#f7b12e"},"encoding":{"x":{"datum":0.89},"y":{"datum":0.376}}},
{"data":{"values":[{}]},"mark":{"type":"text","text":["Model EPSP distribution","(Single PSTH)"],"lineHeight":18,"align":"left","baseline":"top","fontSize":15,"fontWeight":"bold","color":"#a6d69d"},"encoding":{"x":{"datum":0.89},"y":{"datum":0.26}}},
{"data":{"values":[{}]},"mark":{"type":"text","text":"C","align":"left","baseline":"middle","fontSize":16,"color":"#000000"},"encoding":{"x":{"datum":-4.45},"y":{"datum":0.469}}}
]}
]}
]}
